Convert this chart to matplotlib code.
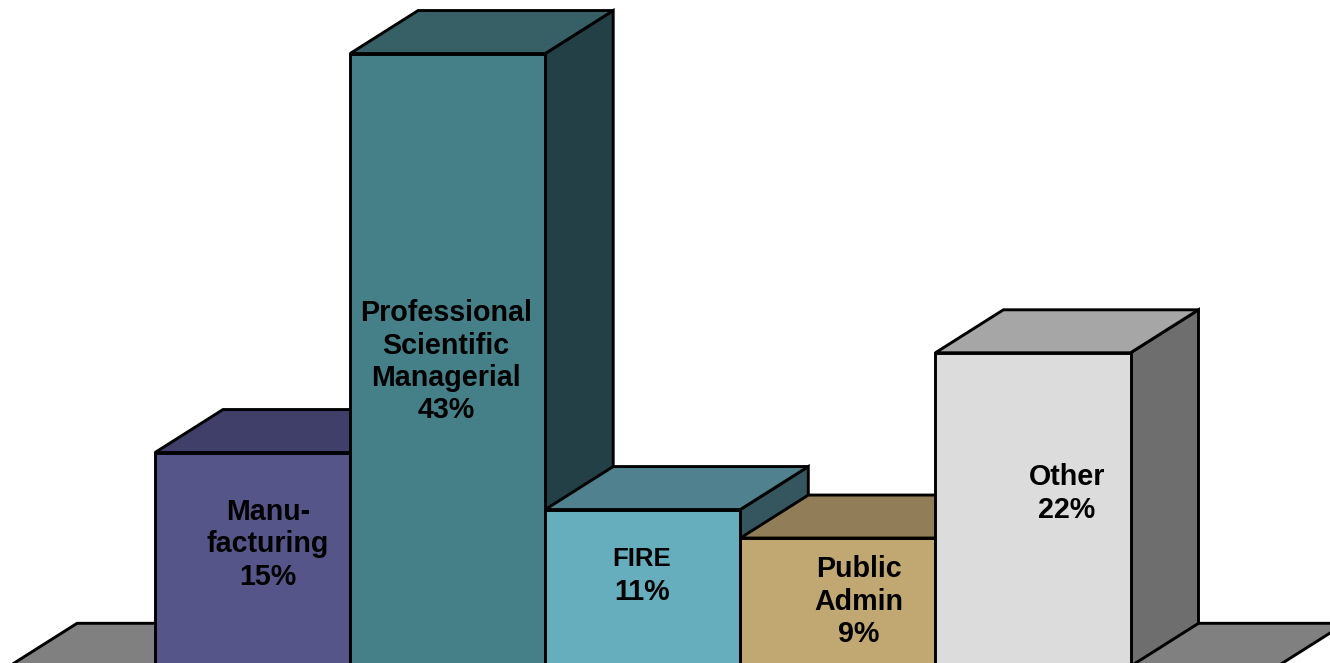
import matplotlib
matplotlib.use('Agg')
import matplotlib.pyplot as plt
from matplotlib.patches import Polygon

plt.rcParams['font.family'] = ['Liberation Sans', 'DejaVu Sans']

# share of employment by sector
names = [['Manu-', 'facturing'],
         ['Professional', 'Scientific', 'Managerial'],
         ['FIRE'],
         ['Public', 'Admin'],
         ['Other']]
values = [15, 43, 11, 9, 22]

front_colors = ['#565589', '#457f87', '#66adbd', '#c1a771', '#dcdcdc']
top_colors = ['#3f3f69', '#365f66', '#4f818f', '#917d57', '#a6a6a6']
side_colors = ['#2c2c4a', '#234046', '#35565f', '#60533a', '#6e6e6e']

# centre of the first text line of each bar, in pixels from the top left
label_pos = [(268, 512), (446, 313), (642, 559), (859, 569), (1067, 477)]
line_step = 32.5
W, H = 1330, 663

fig = plt.figure(figsize=(W / 100, H / 100), dpi=100)
ax = fig.add_axes([0, 0, 1, 1])
ax.axis('off')

# one bar is 195.1 px wide, one percent is 14.25 px high, baseline just below the edge
ax.set_xlim(-155 / 195.1, (W - 155) / 195.1)
ax.set_ylim((666.3 - H) / 14.25, 666.3 / 14.25)

# depth of the 3d effect in data units
dx = 68 / 195.1
dy = 43 / 14.25
lw = 2.1

def face(pts, color, z):
    ax.add_patch(Polygon(pts, closed=True, facecolor=color, edgecolor='black',
                         linewidth=lw, joinstyle='miter', zorder=z))

# floor
fl, fr = -0.748, 5.753
face([(fl, 0), (fl + dx, dy), (fr + dx, dy), (fr, 0)], '#808080', 1)

for i, v in enumerate(values):
    z = 2 + i
    l, r = i, i + 1
    face([(r, 0), (r + dx, dy), (r + dx, v + dy), (r, v)], side_colors[i], z)
    face([(l, v), (l + dx, v + dy), (r + dx, v + dy), (r, v)], top_colors[i], z)
    ax.bar(l, v, width=1, align='edge', color=front_colors[i], edgecolor='black',
           linewidth=lw, zorder=z)

for i, v in enumerate(values):
    lines = names[i] + [f'{v}%']
    x, y = label_pos[i]
    for j, s in enumerate(lines):
        size = 18.5 if s == 'FIRE' else 20.6
        fig.text(x / W, 1 - (y + j * line_step) / H, s, ha='center', va='center',
                 fontsize=size, fontweight='bold', color='black', zorder=20)

fig.savefig('out.png', dpi=100, facecolor='white')
